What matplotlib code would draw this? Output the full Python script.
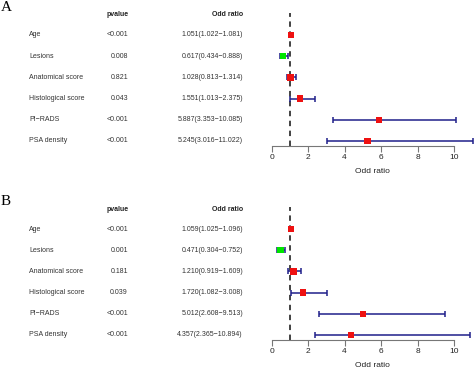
import numpy as np
import matplotlib.pyplot as plt
from matplotlib.transforms import blended_transform_factory

plt.rcParams['font.family'] = ['Liberation Sans', 'DejaVu Sans']

names = ["Age", "Lesions", "Anatomical score", "Histological score", "PI\u2212RADS", "PSA density"]

pval_a = ["<0.001", "0.008", "0.821", "0.043", "<0.001", "<0.001"]
or_a = [1.051, 0.617, 1.028, 1.551, 5.887, 5.245]
lo_a = [1.022, 0.434, 0.813, 1.013, 3.353, 3.016]
hi_a = [1.081, 0.888, 1.314, 2.375, 10.085, 11.022]

pval_b = ["<0.001", "0.001", "0.181", "0.039", "<0.001", "<0.001"]
or_b = [1.059, 0.471, 1.210, 1.720, 5.012, 4.357]
lo_b = [1.025, 0.304, 0.919, 1.082, 2.608, 2.365]
hi_b = [1.096, 0.752, 1.609, 3.008, 9.513, 10.894]

W, H = 474, 369
fig = plt.figure(figsize=(W / 100, H / 100), dpi=100)


def panel(letter, top_px, pvals, ors, los, his):
    # pixel layout: header row, six rows spaced 21.2 px, axis 5 px below last row
    step = 21.2
    head_px = top_px + 2
    first_px = top_px + 22
    axis_px = first_px + 5 * step + 5
    y_top = 6 + (first_px - top_px) / step
    y_bot = 1 - (axis_px - (first_px + 5 * step)) / step

    ax = fig.add_axes([271.7 / W, 1 - axis_px / H, (W - 271.7) / W, (axis_px - top_px) / H])
    ax.set_xlim(0, 11.1)
    ax.set_ylim(y_bot, y_top)
    ys = np.arange(6, 0, -1)

    ax.axvline(1, color="#333333", lw=1.3, ls=(0, (3, 2.5)), zorder=1)
    ors = np.array(ors)
    err = [ors - np.array(los), np.array(his) - ors]
    ax.errorbar(ors, ys, xerr=err, fmt="none", ecolor="#1f1f8a", elinewidth=1.1,
                capsize=2.5, capthick=1.1, zorder=2, clip_on=True)
    cols = ["#00e600" if o < 1 else "#ee1111" for o in ors]
    ax.scatter(ors, ys, marker="s", s=22, c=cols, zorder=3, linewidths=0)

    for s in ["top", "right", "left"]:
        ax.spines[s].set_visible(False)
    ax.spines["bottom"].set_bounds(0, 10)
    ax.spines["bottom"].set_color("#777777")
    ax.set_yticks([])
    ax.set_xticks([0, 2, 4, 6, 8, 10])
    ax.tick_params(axis="x", colors="#777777", labelcolor="#222222", labelsize=6,
                   length=4, width=0.8, pad=1.5)
    ax.set_xlabel("Odd ratio", fontsize=6, color="#222222", labelpad=5)

    tr = blended_transform_factory(fig.transFigure, ax.transData)
    y_head = 6 + (first_px - head_px) / step
    ax.text(118 / W, y_head, "pvalue", transform=tr, ha="center", va="center",
            fontsize=5, fontweight="bold", color="#222222", clip_on=False)
    ax.text(243 / W, y_head, "Odd ratio", transform=tr, ha="right", va="center",
            fontsize=5, fontweight="bold", color="#222222", clip_on=False)
    for y, n, p, o, l, h in zip(ys, names, pvals, ors, los, his):
        ax.text(29 / W, y, n, transform=tr, ha="left", va="center", fontsize=5,
                color="#333333", clip_on=False)
        ax.text(128 / W, y, p, transform=tr, ha="right", va="center", fontsize=5,
                color="#333333", clip_on=False)
        ax.text(243 / W, y, f"{o:.3f}({l:.3f}\u2212{h:.3f})", transform=tr, ha="right",
                va="center", fontsize=5, color="#333333", clip_on=False)

    fig.text(1 / W, 1 - (top_px - 12) / H, letter, ha="left", va="top", fontsize=11,
             family="Liberation Serif")


panel("A", 13, pval_a, or_a, lo_a, hi_a)
panel("B", 207, pval_b, or_b, lo_b, hi_b)

fig.savefig("out.png", dpi=100)
